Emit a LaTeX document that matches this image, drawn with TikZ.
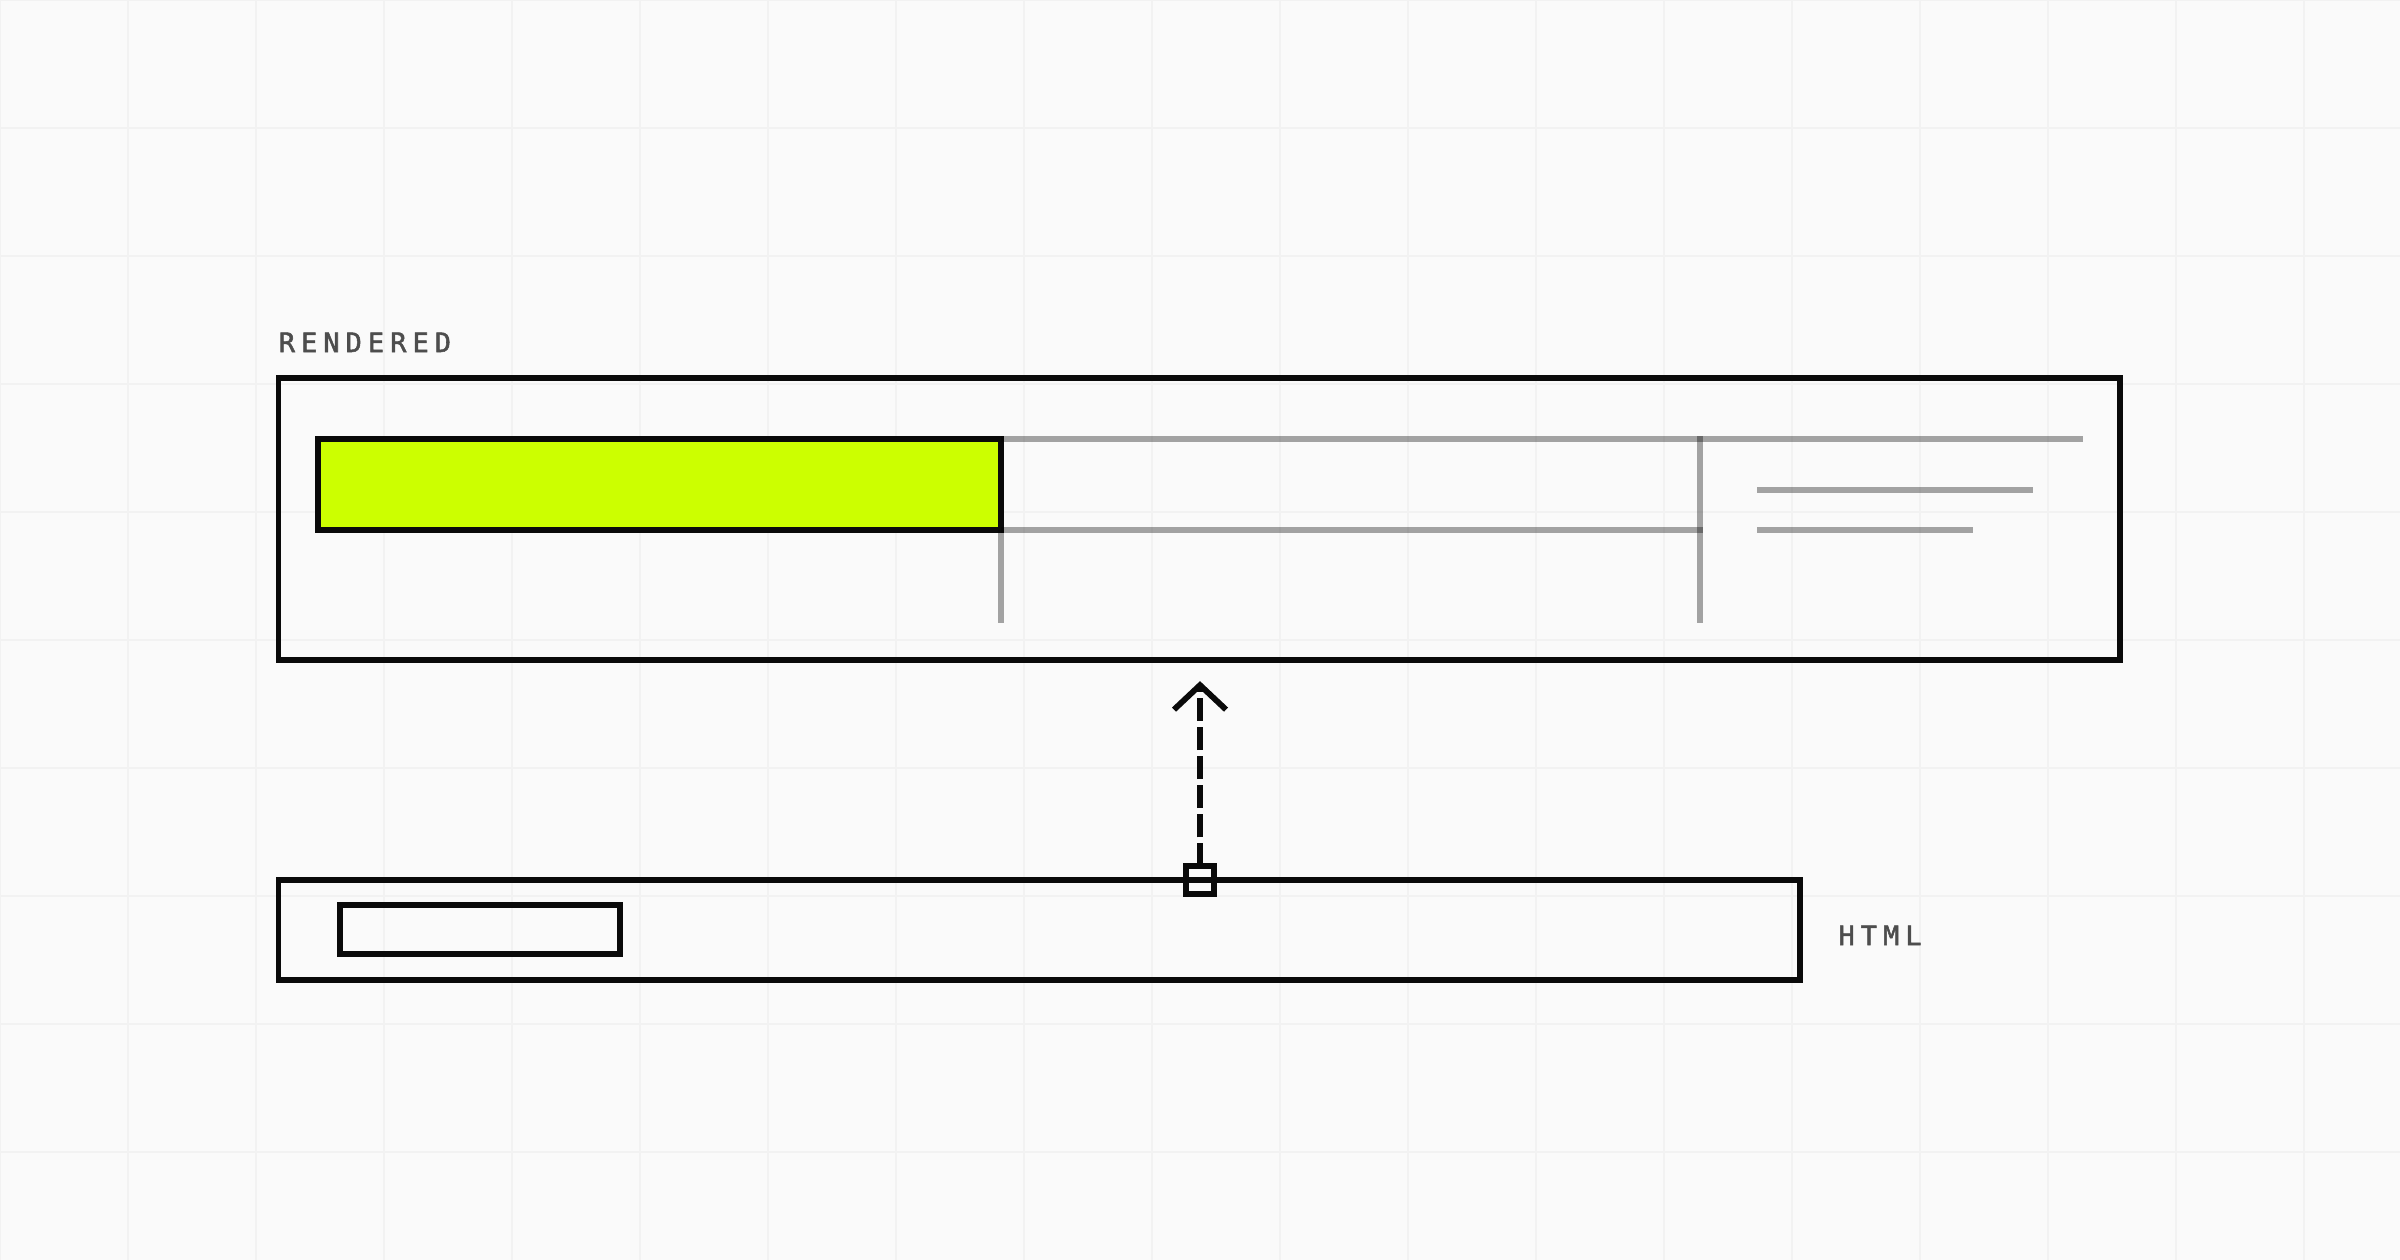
\documentclass[tikz,border=0pt]{standalone}
\usepackage{fontspec}
\usetikzlibrary{arrows.meta,positioning}
\newfontfamily\tagfont[LetterSpace=23,FakeBold=2]{DejaVu Sans Mono}
\definecolor{paper}{HTML}{FAFAFA}
\definecolor{gridline}{HTML}{F2F2F2}
\definecolor{lime}{HTML}{CCFF00}
\definecolor{ink}{HTML}{0A0A0A}
\definecolor{tagtext}{HTML}{4D4D4D}

\begin{document}
\begin{tikzpicture}[x=1pt,y=-1pt,
    frame/.style={draw=ink,line width=3.8pt,inner sep=0pt,outer sep=0pt},
    ghost/.style={black,opacity=0.35,line width=4pt},
    tag/.style={font=\tagfont\fontsize{17.5}{20}\selectfont,text=tagtext,inner sep=0pt,anchor=base west},
    link/.style={ink,line width=3.8pt,dash pattern=on 15pt off 4pt,-{Straight Barb[length=16pt,width=34pt]}}]
    \useasboundingbox (0,0) rectangle (1568,823);

    % Paper and grid
    \fill[paper] (0,0) rectangle (1568,823);
    \foreach \i in {0,...,18}
        \draw[gridline,line width=1.3pt] (\i*83.63,0) -- (\i*83.63,823);
    \foreach \j in {0,...,9}
        \draw[gridline,line width=1.3pt] (0,\j*83.63) -- (1568,\j*83.63);

    % Rendered page
    \node[tag] (renderedtag) at (182,230) {RENDERED};
    \node[frame,minimum width=1203pt,minimum height=184pt] (rendered) at (783.5,339) {};
    \node[frame,fill=lime,minimum width=446pt,minimum height=59pt] (bar) at (431,316.5) {};

    % Layout guides (faded)
    \draw[ghost] (bar.north east) -- (1361,287);
    \draw[ghost] (bar.south east) -- (1112.7,346);
    \draw[ghost] (bar.south east) -- ++(0,60.8);
    \draw[ghost] (1110.7,285) -- (1110.7,406.8);
    \draw[ghost] (1148,320) -- (1328,320);
    \draw[ghost] (1148,346) -- (1289,346);

    % HTML source
    \node[frame,minimum width=994pt,minimum height=65pt] (html) at (679,607.5) {};
    \node[frame,minimum width=183pt,minimum height=31.5pt] (element) at (313.5,607.25) {};
    \node[tag] (htmltag) at (1201,617.5) {HTML};

    % Hook into the rendered page
    \node[frame,minimum size=18pt] (port) at (784,575) {};
    \coordinate (aim) at ([yshift=-14pt]rendered.south);
    \draw[link] (port.north) -- (port |- aim);
\end{tikzpicture}
\end{document}
